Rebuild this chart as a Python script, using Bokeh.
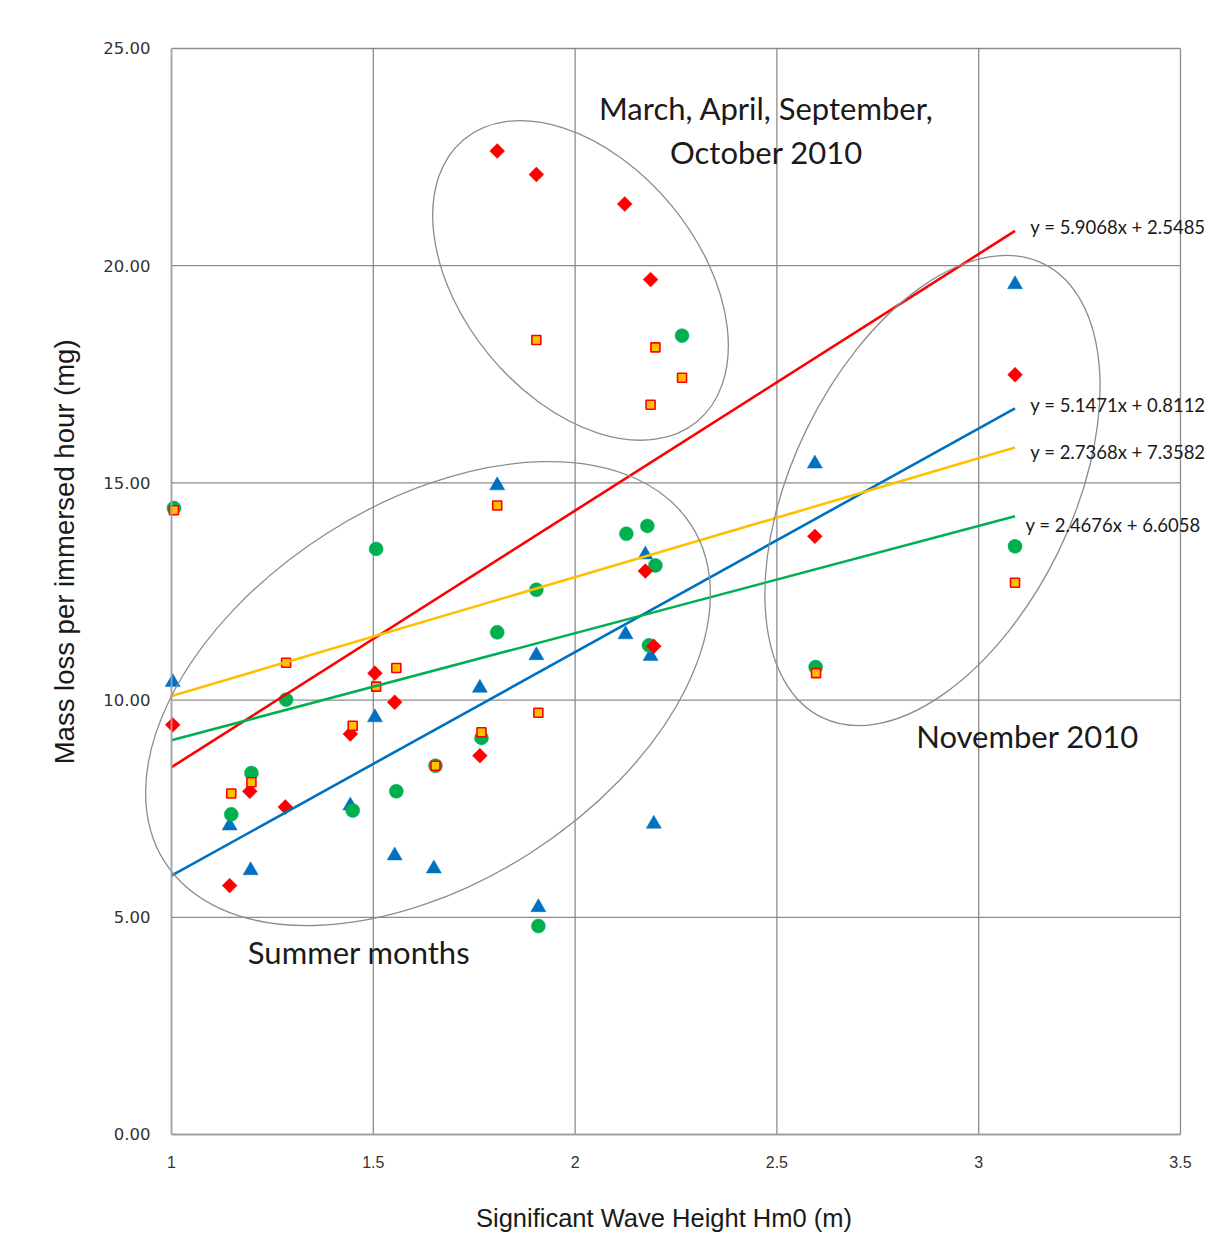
import math
from bokeh.plotting import figure
from bokeh.models import Label, FixedTicker, NumeralTickFormatter, Range1d
from bokeh.embed import file_html
from bokeh.resources import INLINE

# ---------------- data ----------------
x_ticks = [1, 1.5, 2, 2.5, 3, 3.5]
x_tick_labels = ["1", "1.5", "2", "2.5", "3", "3.5"]
y_ticks = [0, 5, 10, 15, 20, 25]

# blue triangles
blue_x = [1.003, 1.144, 1.196, 1.443, 1.504, 1.553, 1.650, 1.764, 1.807, 1.904, 1.909, 2.125, 2.174, 2.187, 2.195, 2.594, 3.090]
blue_y = [10.41, 7.11, 6.08, 7.57, 9.60, 6.42, 6.12, 10.28, 14.94, 11.03, 5.23, 11.51, 13.35, 11.01, 7.15, 15.44, 19.57]

# green circles
green_x = [1.006, 1.148, 1.198, 1.284, 1.449, 1.507, 1.557, 1.654, 1.768, 1.807, 1.904, 1.909, 2.127, 2.179, 2.199, 2.183, 2.265, 2.596, 3.090]
green_y = [14.42, 7.37, 8.32, 10.01, 7.46, 13.48, 7.90, 8.49, 9.13, 11.56, 12.54, 4.80, 13.83, 14.01, 13.10, 11.26, 18.39, 10.76, 13.54]

# red diamonds
red_x = [1.003, 1.144, 1.194, 1.282, 1.443, 1.504, 1.553, 1.764, 1.807, 1.904, 2.123, 2.187, 2.174, 2.195, 2.594, 3.090]
red_y = [9.43, 5.73, 7.90, 7.54, 9.22, 10.62, 9.95, 8.72, 22.64, 22.10, 21.42, 19.68, 12.97, 11.24, 13.77, 17.49]

# yellow squares
yellow_x = [1.006, 1.148, 1.198, 1.284, 1.449, 1.507, 1.557, 1.654, 1.768, 1.807, 1.904, 1.909, 2.187, 2.199, 2.265, 2.597, 3.090]
yellow_y = [14.37, 7.85, 8.11, 10.86, 9.41, 10.31, 10.74, 8.49, 9.26, 14.48, 18.29, 9.71, 16.80, 18.12, 17.42, 10.62, 12.70]

# linear trend lines (order: red, blue, yellow, green)
trend_colors = ["#FF0000", "#0070C0", "#FFC000", "#00B050"]
trend_slope = [5.9068, 5.1471, 2.7368, 2.4676]
trend_intercept = [2.5485, 0.8112, 7.3582, 6.6058]
trend_labels = ["y = 5.9068x + 2.5485", "y = 5.1471x + 0.8112", "y = 2.7368x + 7.3582", "y = 2.4676x + 6.6058"]
trend_x_range = [1.0, 3.09]

# grouping ellipses: centre (data), width/height (screen px), angle (deg)
ell_x = [1.6355, 2.0134, 2.8855]
ell_y = [10.15, 19.66, 14.825]
ell_w = [625, 366, 505]
ell_h = [379, 236, 280]
ell_angle = [32.6, -50.4, 64.0]

# ---------------- figure ----------------
# The plotting frame is widened beyond the plot area (1..3.5, 0..25) so that the
# group ellipses, tick labels, titles and equation labels around it are not clipped.
X0, X1 = 0.6506, 3.5694
Y0, Y1 = -2.256, 25.299
p = figure(frame_width=1178, frame_height=1197,
           x_range=Range1d(X0, X1), y_range=Range1d(Y0, Y1),
           output_backend="svg", toolbar_location=None,
           min_border_left=30, min_border_right=0,
           min_border_top=35, min_border_bottom=0)
p.background_fill_color = "white"
p.border_fill_color = "white"
p.outline_line_color = None
p.xgrid.grid_line_color = None
p.ygrid.grid_line_color = None

grid_col = "#8c8c8c"
# grid lines limited to the plot area
hy = y_ticks[1:]
p.segment(x0=[x_ticks[0]] * len(hy), y0=hy, x1=[x_ticks[-1]] * len(hy), y1=hy,
          line_color=grid_col, line_width=1.3, level="underlay")
vx = x_ticks[1:]
p.segment(x0=vx, y0=[y_ticks[0]] * len(vx), x1=vx, y1=[y_ticks[-1]] * len(vx),
          line_color=grid_col, line_width=1.3, level="underlay")

xa = p.xaxis[0]
xa.ticker = FixedTicker(ticks=x_ticks)
xa.bounds = (x_ticks[0], x_ticks[-1])
xa.major_label_overrides = {t: s for t, s in zip(x_ticks, x_tick_labels)}
xa.fixed_location = y_ticks[0]
ya = p.yaxis[0]
ya.ticker = FixedTicker(ticks=y_ticks)
ya.bounds = (y_ticks[0], y_ticks[-1])
ya.formatter = NumeralTickFormatter(format="0.00")
ya.fixed_location = x_ticks[0]

for ax in (xa, ya):
    ax.axis_line_color = "#a0a0a0"
    ax.axis_line_width = 1.8
    ax.major_tick_line_color = None
    ax.minor_tick_line_color = None
    ax.major_tick_out = 0
    ax.major_tick_in = 0
    ax.minor_tick_out = 0
    ax.major_label_text_color = "#333333"

xa.major_label_text_font = "Liberation Sans"
xa.major_label_text_font_size = "16px"
xa.major_label_standoff = 22

ya.major_label_text_font = "DejaVu Sans"
ya.major_label_text_font_size = "16.5px"
ya.major_label_standoff = 21

# markers
p.scatter(blue_x, blue_y, marker="triangle", size=15, fill_color="#0070C0", line_color="#0070C0", line_width=0.5)
p.scatter(green_x, green_y, marker="circle", size=14, fill_color="#00B050", line_color="#00B050", line_width=0.5)
p.scatter(red_x, red_y, marker="square", angle=math.pi / 4, size=10.5, fill_color="#FF0000", line_color="#FF0000", line_width=0.5)
p.scatter(yellow_x, yellow_y, marker="square", size=9, fill_color="#FFC000", line_color="#FF0000", line_width=1.6)

# trend lines
for c, m, b in zip(trend_colors, trend_slope, trend_intercept):
    p.line(trend_x_range, [m * x + b for x in trend_x_range], line_color=c, line_width=2.6)

# ellipses
p.ellipse(x=ell_x, y=ell_y, width=ell_w, height=ell_h,
          angle=[math.radians(a) for a in ell_angle],
          width_units="screen", height_units="screen",
          fill_color=None, line_color="#8c8c8c", line_width=1.3)

# text annotations
txt_font = "Lato"
txt_col = "#1a1a1a"
def add_label(x, y, text, size, align="center", font=txt_font, angle=0.0):
    p.add_layout(Label(x=x, y=y, text=text, text_align=align, text_baseline="middle",
                       text_font=font, text_font_size=size, text_color=txt_col, angle=angle))

add_label(2.474, 23.62, "March, April, September,", "31px")
add_label(2.474, 22.61, "October 2010", "31px")
add_label(1.4646, 4.21, "Summer months", "31px")
add_label(3.121, 9.17, "November 2010", "31px")

eq_x = [3.128, 3.128, 3.128, 3.116]
eq_y = [20.90, 16.80, 15.70, 14.04]
for ex, ey, t in zip(eq_x, eq_y, trend_labels):
    add_label(ex, ey, t, "18.5px", align="left")

# axis titles
add_label(0.735, 13.50, "Mass loss per immersed hour  (mg)", "27.5px", font="Liberation Sans", angle=math.pi / 2)
add_label(2.229, -1.93, "Significant Wave Height  Hm0 (m)", "25.5px", font="Liberation Sans")

open("out.html", "w").write(file_html(p, INLINE))
